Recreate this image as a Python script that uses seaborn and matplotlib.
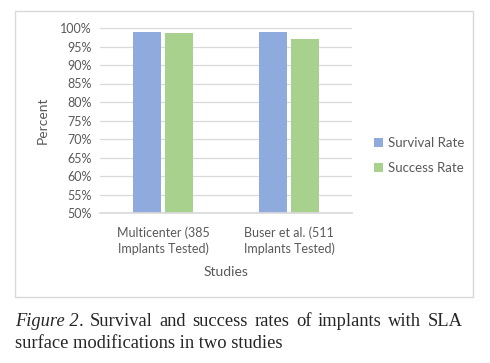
import numpy as np
import pandas as pd
import matplotlib
matplotlib.use("Agg")
import matplotlib.pyplot as plt
import seaborn as sns
from matplotlib.patches import Rectangle
from matplotlib.ticker import FuncFormatter

studies = ["Multicenter (385\nImplants Tested)", "Buser et al. (511\nImplants Tested)"]
survival = [99.0, 98.8]
success = [98.7, 97.0]
series = ["Survival Rate", "Success Rate"]

df = pd.DataFrame({
    "study": studies * 2,
    "rate": survival + success,
    "series": [series[0]] * 2 + [series[1]] * 2,
})

sns.set_theme(style="white")
plt.rcParams['font.family'] = ['Lato', 'DejaVu Sans']

fig = plt.figure(figsize=(4.9, 3.63), dpi=100)
ax = fig.add_axes([100/490, 1 - 213/363, 252/490, 185/363])

sns.barplot(data=df, x="study", y="rate", hue="series", ax=ax,
            palette=["#8faadc", "#a9d18e"], width=0.5, gap=0.11,
            saturation=1, linewidth=0)

ax.set_ylim(50, 100)
ax.set_yticks(np.arange(50, 101, 5))
ax.yaxis.set_major_formatter(FuncFormatter(lambda v, p: "{:.0f}%".format(v)))
ax.grid(axis="y", color="#d9d9d9", linewidth=0.9)
ax.set_axisbelow(True)
for s in ["top", "right", "left"]:
    ax.spines[s].set_visible(False)
ax.spines["bottom"].set_color("#d9d9d9")
ax.tick_params(axis="both", length=0, labelsize=9, colors="#595959", pad=6)
ax.tick_params(axis="x", pad=10)
for t in ax.get_xticklabels():
    t.set_linespacing(1.3)
ax.set_ylabel("Percent", fontsize=10, color="#595959", labelpad=8)
ax.set_xlabel("Studies", fontsize=10, color="#595959", labelpad=8)

ax.legend(loc="center left", bbox_to_anchor=(1.04, 0.31), frameon=False,
          fontsize=9.5, labelcolor="#595959", handlelength=0.7, handleheight=0.7,
          handletextpad=0.4, labelspacing=1.0)

fig.patches.append(Rectangle((15/490, 1 - 297/363), 458/490, 286/363,
                             transform=fig.transFigure, fill=False,
                             edgecolor="#d9d9d9", linewidth=1))

# caption, first line justified between x=15 and x=463
cap_size = 13.3
words = [("Figure 2", "italic"), (".", "normal"), ("Survival", "normal"), ("and", "normal"),
         ("success", "normal"), ("rates", "normal"), ("of", "normal"),
         ("implants", "normal"), ("with", "normal"), ("SLA", "normal")]
renderer = fig.canvas.get_renderer()
objs = []
for w, st in words:
    objs.append(fig.text(0, 1 - 322/363, w, family="Liberation Serif", style=st,
                         fontsize=cap_size, va="center"))
widths = [o.get_window_extent(renderer).width for o in objs]
# the period sticks to "Figure 2"
ngaps = len(words) - 2
gap = (463 - 15 - sum(widths)) / ngaps
x = 15
for i, o in enumerate(objs):
    o.set_x(x / 490)
    x += widths[i]
    if i != 0:
        x += gap
fig.text(15/490, 1 - 344/363, "surface modifications in two studies",
         family="Liberation Serif", fontsize=cap_size, va="center")

fig.savefig("out.png", dpi=100)
